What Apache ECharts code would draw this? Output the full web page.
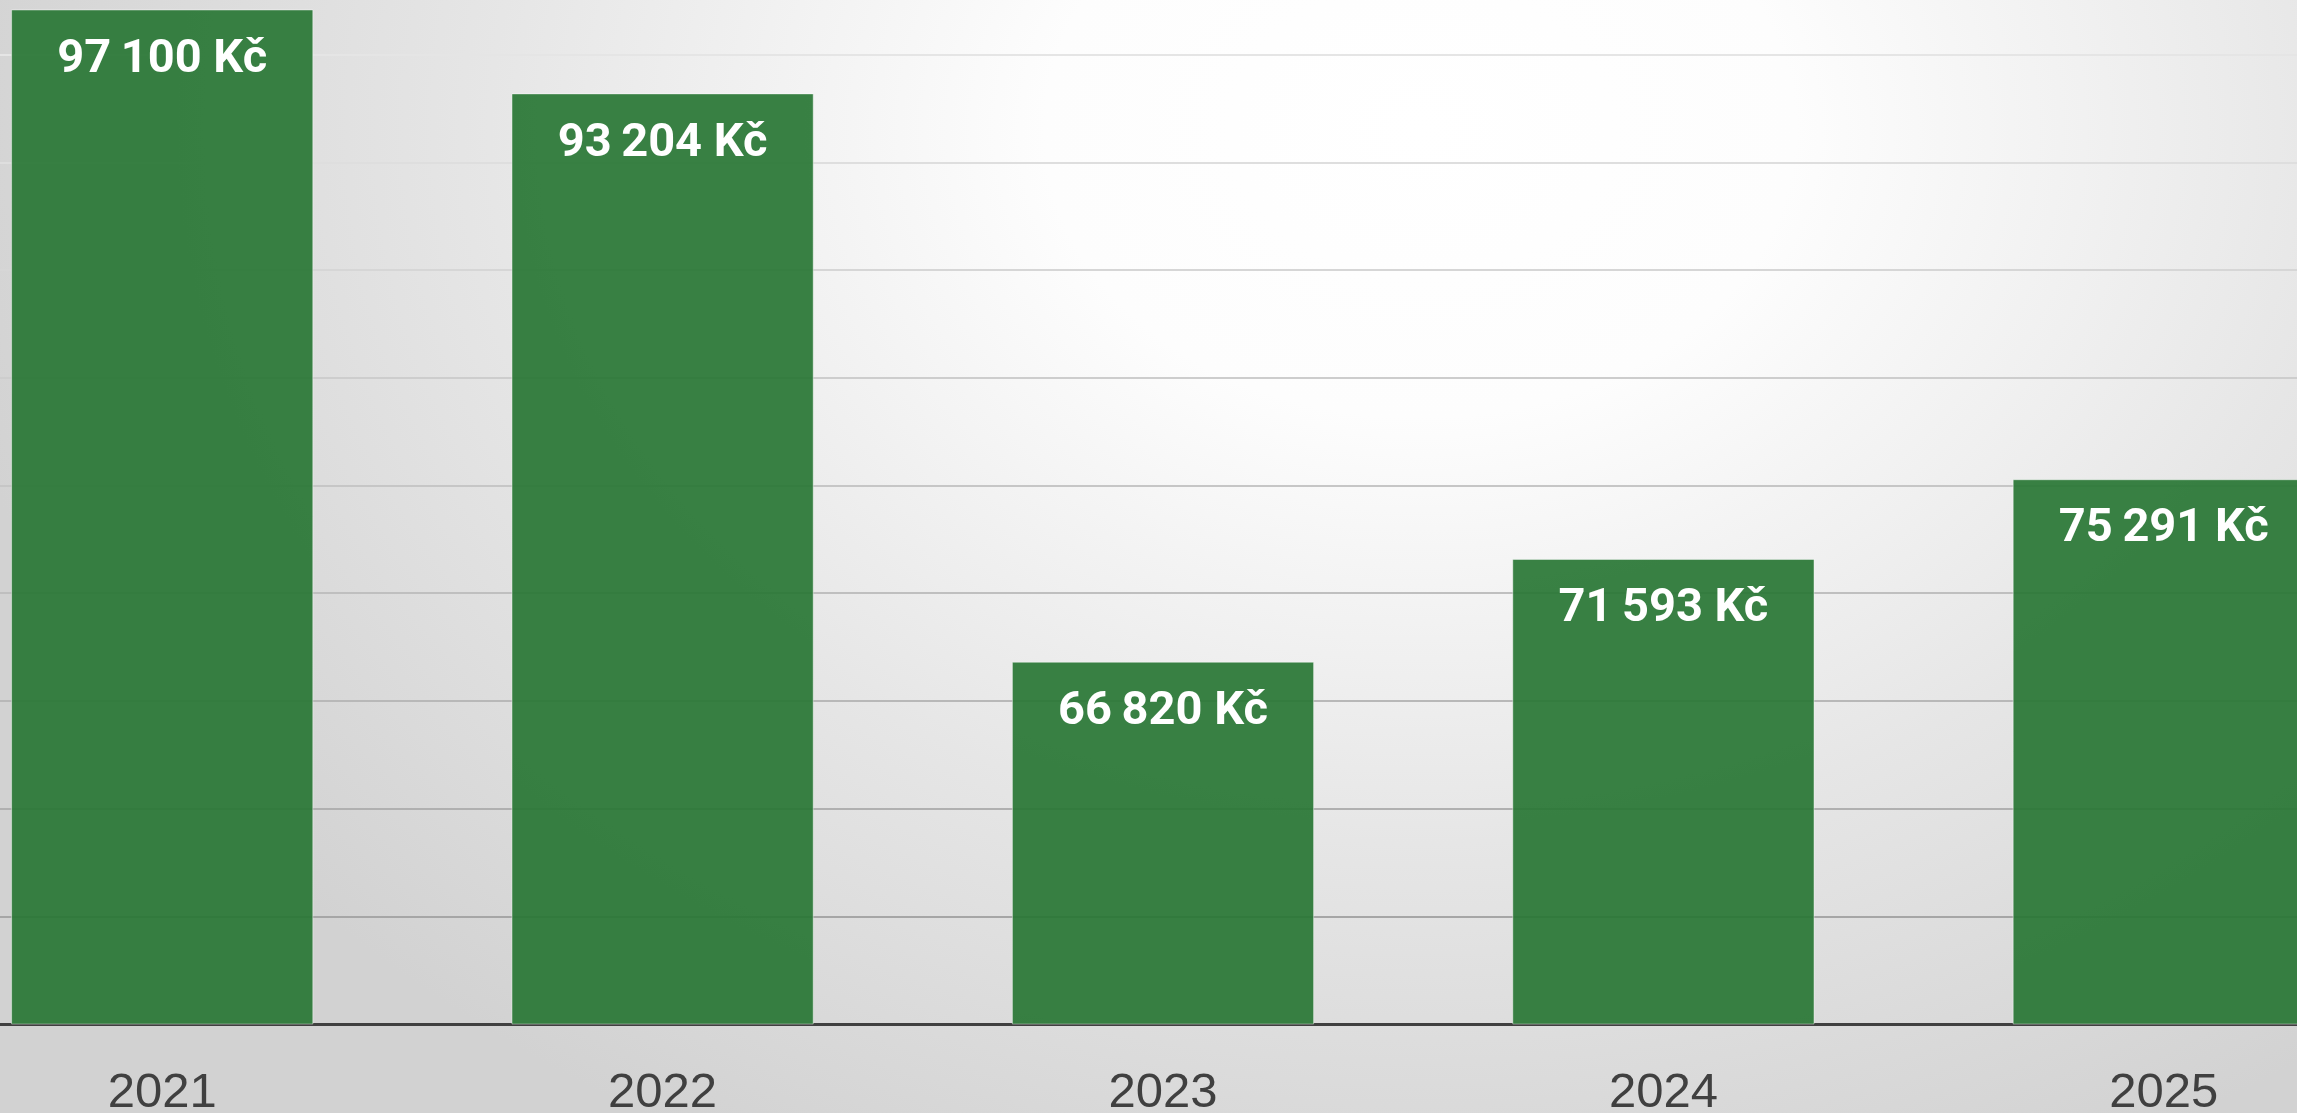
<!DOCTYPE html>
<html>
<head>
<meta charset="utf-8">
<script src="https://cdn.jsdelivr.net/npm/echarts@6/dist/echarts.min.js"></script>
<style>
html,body{margin:0;padding:0;width:2297px;height:1113px;overflow:hidden;position:relative;}
#bg{position:absolute;left:0;top:0;width:2297px;height:1113px;
  background: radial-gradient(ellipse 1500px 1150px at 1420px 130px, #ffffff 0%, #fdfdfd 25%, #e6e6e6 62%, #d2d2d2 100%);}
#chart{position:absolute;left:-88px;top:-53px;width:2502px;height:1216px;}
</style>
</head>
<body>
<div id="bg"></div>
<div id="chart"></div>
<script>
const categories = ['2021', '2022', '2023', '2024', '2025'];
const values = [97100, 93204, 66820, 71593, 75291];
const axisMin = 50000;
const axisMax = 100000;
const axisInterval = 5000;
const currency = 'Kč';

function fmt(v) {
  return String(v).replace(/\B(?=(\d{3})+(?!\d))/g, '\u2009') + '\u00a0' + currency;
}

const chart = echarts.init(document.getElementById('chart'), null, {renderer: 'canvas'});
chart.setOption({
  backgroundColor: 'transparent',
  animation: false,
  grid: {left: 0, right: 0, top: 0, bottom: 139, containLabel: false, outerBoundsMode: 'none'},
  xAxis: {
    type: 'category',
    data: categories,
    axisLine: {show: true, lineStyle: {color: '#404040', width: 3}},
    axisTick: {show: false},
    axisLabel: {
      color: '#404040', fontSize: 49, fontFamily: '"Liberation Sans", Arial, sans-serif',
      margin: 45
    }
  },
  yAxis: {
    type: 'value',
    min: axisMin, max: axisMax, interval: axisInterval,
    axisLine: {show: false},
    axisTick: {show: false},
    axisLabel: {show: false},
    splitLine: {
      show: true,
      lineStyle: {
        width: 2,
        color: ['#404040', '#a6a6a6', '#b0b0b0', '#b8b8b8', '#bfbfbf', '#c6c6c6', '#cdcdcd', '#d6d6d6', '#dedede', '#e5e5e5', '#eeeeee']
      }
    }
  },
  series: [{
    type: 'bar',
    data: values,
    barWidth: '60.4%',
    itemStyle: {
      color: 'rgba(40,118,52,0.92)',
      borderColor: 'rgba(255,255,255,0.45)',
      borderWidth: 1
    },
    label: {
      show: true,
      position: 'insideTop',
      distance: 27,
      color: '#ffffff',
      fontSize: 47,
      fontWeight: 'bold',
      fontFamily: 'Roboto, "Liberation Sans", sans-serif',
      formatter: p => fmt(p.value)
    }
  }]
});
</script>
</body>
</html>
